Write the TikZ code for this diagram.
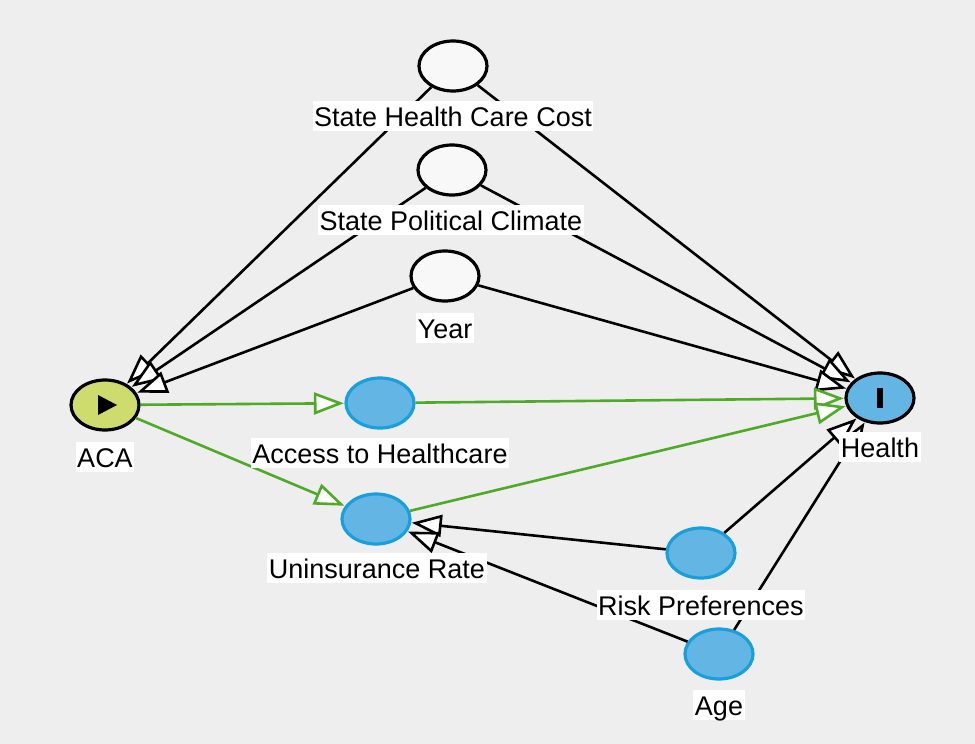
\documentclass[tikz,border=0pt]{standalone}
\usepackage{fontspec}
\setmainfont{Liberation Sans}
\usetikzlibrary{arrows.meta,shapes.geometric}
\definecolor{bgc}{HTML}{EEEEEE}
\definecolor{wfill}{HTML}{F8F8F8}
\definecolor{acafill}{HTML}{CDDC6C}
\definecolor{bfill}{HTML}{63B6E4}
\definecolor{bline}{HTML}{1A9FDD}
\definecolor{gedge}{HTML}{4FAA28}
\begin{document}
\begin{tikzpicture}[x=1pt,y=-1pt,
  var/.style={ellipse, minimum width=68pt, minimum height=50pt, inner sep=0pt, line width=3.2pt},
  wnode/.style={var, draw=black, fill=wfill},
  bnode/.style={var, draw=bline, fill=bfill},
  acanode/.style={var, draw=black, fill=acafill},
  hnode/.style={var, draw=black, fill=bfill},
  lab/.style={fill=white, inner xsep=1.5pt, inner ysep=0pt, text height=25pt, text depth=5pt, font=\fontsize{27}{30}\selectfont},
  edgeb/.style={draw=black, line width=2.6pt, shorten >=0.5pt, -{Triangle[length=30pt,width=22pt,fill=white]}},
  edgeg/.style={draw=gedge, line width=2.6pt, shorten >=0.5pt, -{Triangle[length=30pt,width=22pt,fill=white]}}
]
\fill[bgc] (0,0) rectangle (975,744);
\useasboundingbox (0,0) rectangle (975,744);

% variable nodes
\node[wnode] (shcc) at (453,66) {};
\node[wnode] (spc) at (452,170) {};
\node[wnode] (year) at (445,276) {};
\node[acanode] (aca) at (105,405) {};
\node[bnode] (access) at (380,403) {};
\node[bnode] (unins) at (376,519) {};
\node[hnode] (health) at (880,398) {};
\node[bnode] (risk) at (701,553) {};
\node[bnode] (age) at (719,654) {};

% icons
\fill[shift={(aca.center)}] (-7,-10) -- (-7,10) -- (12,0) -- cycle;
\fill[shift={(health.center)}] (-3,-10) rectangle (3,10);

% edges
\draw[edgeb] (shcc) -- (aca);
\draw[edgeb] (spc) -- (aca);
\draw[edgeb] (year) -- (aca);
\draw[edgeb] (shcc) -- (health);
\draw[edgeb] (spc) -- (health);
\draw[edgeb] (year) -- (health);
\draw[edgeg] (aca) -- (access);
\draw[edgeg] (aca) -- (unins);
\draw[edgeg] (access) -- (health);
\draw[edgeg] (unins) -- (health);
\draw[edgeb] (risk) -- (unins);
\draw[edgeb] (risk) -- (health);
\draw[edgeb] (age) -- (unins);
\draw[edgeb] (age) -- (health);

% labels
\node[lab] (lshcc) at (453,116) {State Health Care Cost};
\node[lab] (lspc) at (451,220) {State Political Climate};
\node[lab] (lyear) at (445,328) {Year};
\node[lab] (laca) at (105,457) {ACA};
\node[lab] (laccess) at (380,453) {Access to Healthcare};
\node[lab] (lunins) at (377,568) {Uninsurance Rate};
\node[lab] (lhealth) at (880,447) {Health};
\node[lab] (lrisk) at (701,605) {Risk Preferences};
\node[lab] (lage) at (719,705) {Age};
\end{tikzpicture}
\end{document}
